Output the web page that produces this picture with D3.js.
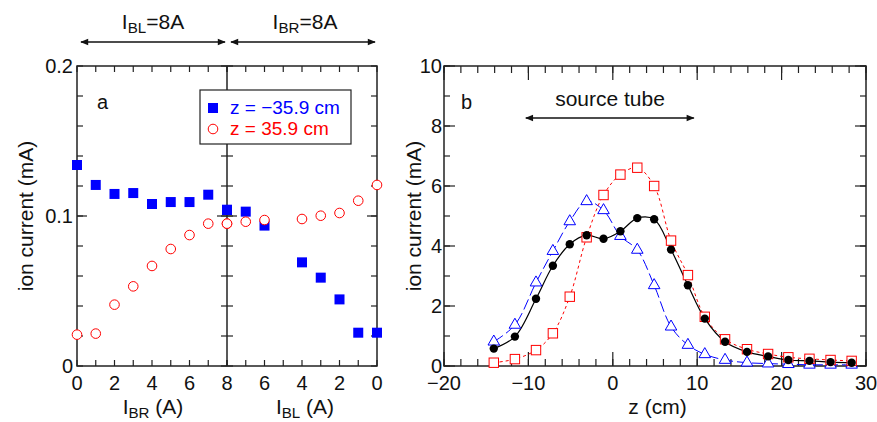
<!DOCTYPE html>
<html>
<head>
<meta charset="utf-8">
<script src="https://cdnjs.cloudflare.com/ajax/libs/d3/7.8.5/d3.min.js"></script>
<style>
  body { margin: 0; background: #fff; }
  text { font-family: "Liberation Sans", Arial, sans-serif; fill: #111; }
</style>
</head>
<body>
<script>
// panel a: left half x = I_BR (A), right half x = I_BL (A)
const ibrLeft = [0, 1, 2, 3, 4, 5, 6, 7, 8];
const blueLeft = [0.134, 0.1207, 0.1147, 0.1153, 0.108, 0.1093, 0.1093, 0.1142, 0.1042];
const redLeft = [0.0209, 0.0216, 0.0409, 0.0531, 0.0667, 0.078, 0.0873, 0.0949, 0.0949];
const iblRight = [8, 7, 6, 4, 3, 2, 1, 0];
const blueRight = [0.104, 0.1029, 0.0936, 0.0691, 0.0589, 0.0444, 0.0222, 0.0222];
const redRight = [0.0949, 0.0962, 0.0973, 0.098, 0.1002, 0.102, 0.1102, 0.1207];
const legendLabels = ["z = \u221235.9 cm", "z = 35.9 cm"];

// panel b: current vs z
const zPos = [-14.1, -11.6, -9.1, -7.1, -5.1, -3.1, -1.1, 0.9, 2.9, 4.9, 6.9, 8.9, 10.9, 13.3, 15.9, 18.4, 20.8, 23.3, 25.8, 28.3];
const blackCur = [0.58, 0.98, 2.24, 3.34, 4.06, 4.36, 4.24, 4.49, 4.93, 4.89, 3.88, 2.69, 1.58, 0.81, 0.47, 0.32, 0.2, 0.17, 0.13, 0.11];
const redCur = [0.11, 0.23, 0.53, 1.09, 2.31, 4.29, 5.7, 6.38, 6.61, 6.0, 4.18, 3.03, 1.64, 0.89, 0.56, 0.4, 0.29, 0.24, 0.2, 0.17];
const blueCur = [0.81, 1.37, 2.78, 3.83, 4.82, 5.49, 5.19, 4.33, 3.87, 2.69, 1.31, 0.7, 0.39, 0.2, 0.11, 0.08, 0.06, 0.04, 0.04, 0.04];

const BLUE = "#0000ff", RED = "#ff0000";
const FT = 21, FN = 20, FL = 19;   // titles, tick numbers, legend

const svg = d3.select("body").append("svg")
    .attr("width", 877).attr("height", 422);

const defs = svg.append("defs");
defs.append("marker").attr("id", "arr").attr("viewBox", "0 0 10 10")
    .attr("refX", 9).attr("refY", 5).attr("markerWidth", 12).attr("markerHeight", 8)
    .attr("markerUnits", "userSpaceOnUse").attr("orient", "auto-start-reverse")
    .append("path").attr("d", "M0,1 L10,5 L0,9 Z").attr("fill", "#111");

function arrow(g, x1, x2, y) {
    g.append("line").attr("x1", x1).attr("x2", x2).attr("y1", y).attr("y2", y)
        .attr("stroke", "#111").attr("stroke-width", 1.3)
        .attr("marker-start", "url(#arr)").attr("marker-end", "url(#arr)");
}

//ticks drawn inward on a side of a frame
function ticks(g, vals, pos, fixed, len, side) {
    vals.forEach(function(v) {
        const p = pos(v);
        let l = g.append("line").attr("stroke", "#222").attr("stroke-width", 1.2);
        if (side === "bottom") l.attr("x1", p).attr("x2", p).attr("y1", fixed).attr("y2", fixed - len);
        if (side === "top") l.attr("x1", p).attr("x2", p).attr("y1", fixed).attr("y2", fixed + len);
        if (side === "left") l.attr("y1", p).attr("y2", p).attr("x1", fixed).attr("x2", fixed + len);
        if (side === "right") l.attr("y1", p).attr("y2", p).attr("x1", fixed).attr("x2", fixed - len);
    });
}

function label(g, x, y, str, size, anchor) {
    return g.append("text").attr("x", x).attr("y", y).attr("font-size", size)
        .attr("text-anchor", anchor || "middle").text(str);
}

// ---------------- panel a ----------------
const aL = 77, aM = 227, aR = 377, aT = 66, aB = 366;
const xa1 = d3.scaleLinear().domain([0, 8]).range([aL, aM]);
const xa2 = d3.scaleLinear().domain([8, 0]).range([aM, aR]);
const ya = d3.scaleLinear().domain([0, 0.2]).range([aB, aT]);
const ga = svg.append("g");

const yMinorA = d3.range(0, 0.2001, 0.02);
const yMajorA = [0, 0.1, 0.2];
ticks(ga, yMinorA, ya, aL, 6, "left");
ticks(ga, yMinorA, ya, aR, 6, "right");
ticks(ga, yMinorA, ya, aM, 6, "right");
ticks(ga, yMinorA, ya, aM, 6, "left");
ticks(ga, [0.1], ya, aL, 10, "left");
ticks(ga, [0.1], ya, aR, 10, "right");
ticks(ga, [0.1], ya, aM, 10, "right");
ticks(ga, [0.1], ya, aM, 10, "left");
ticks(ga, d3.range(0, 9), xa1, aB, 6, "bottom");
ticks(ga, d3.range(0, 9), xa1, aT, 6, "top");
ticks(ga, d3.range(0, 9), xa2, aB, 6, "bottom");
ticks(ga, d3.range(0, 9), xa2, aT, 6, "top");

ga.append("rect").attr("x", aL).attr("y", aT).attr("width", aR - aL).attr("height", aB - aT)
    .attr("fill", "none").attr("stroke", "#222").attr("stroke-width", 1.5);
ga.append("line").attr("x1", aM).attr("x2", aM).attr("y1", aT).attr("y2", aB)
    .attr("stroke", "#222").attr("stroke-width", 1.5);

yMajorA.forEach(function(d) {
    label(ga, aL - 4, ya(d) + 7, d === 0 ? "0" : d3.format(".1f")(d), FN, "end");
});
[0, 2, 4, 6, 8].forEach(function(d) { label(ga, xa1(d), 390, d, FN); });
[6, 4, 2, 0].forEach(function(d) { label(ga, xa2(d), 390, d, FN); });

function subLabel(g, x, y, main, sub, rest, size) {
    const t = g.append("text").attr("x", x).attr("y", y).attr("text-anchor", "middle").attr("font-size", size);
    t.append("tspan").text(main);
    t.append("tspan").attr("font-size", size * 0.72).attr("dy", 4).text(sub);
    t.append("tspan").attr("dy", -4).text(rest);
}
subLabel(ga, 153, 414, "I", "BR", " (A)", FT);
subLabel(ga, 305, 414, "I", "BL", " (A)", FT);
subLabel(ga, 153, 29, "I", "BL", "=8A", FT);
subLabel(ga, 305, 29, "I", "BR", "=8A", FT);
arrow(ga, 81, 225, 42);
arrow(ga, 231, 375, 42);

ga.append("text").attr("transform", "translate(33," + ((aT + aB) / 2) + ") rotate(-90)")
    .attr("text-anchor", "middle").attr("font-size", FT).text("ion current (mA)");
label(ga, 97, 109, "a", FN, "start");

// markers
const sq = 10;
function squares(g, xs, ys, xsc, ysc) {
    g.selectAll(null).data(xs).enter().append("rect")
        .attr("x", function(d) { return xsc(d) - sq / 2; })
        .attr("y", function(d, i) { return ysc(ys[i]) - sq / 2; })
        .attr("width", sq).attr("height", sq).attr("fill", BLUE);
}
function circles(g, xs, ys, xsc, ysc) {
    g.selectAll(null).data(xs).enter().append("circle")
        .attr("cx", function(d) { return xsc(d); })
        .attr("cy", function(d, i) { return ysc(ys[i]); })
        .attr("r", 4.8).attr("fill", "#fff").attr("stroke", RED).attr("stroke-width", 1);
}
squares(ga, ibrLeft, blueLeft, xa1, ya);
squares(ga, iblRight, blueRight, xa2, ya);
circles(ga, ibrLeft, redLeft, xa1, ya);
circles(ga, iblRight, redRight, xa2, ya);

// legend
const lg = ga.append("g");
lg.append("rect").attr("x", 200).attr("y", 90).attr("width", 151).attr("height", 54)
    .attr("fill", "#fff").attr("stroke", "#222").attr("stroke-width", 1.2);
lg.append("rect").attr("x", 213 - sq / 2).attr("y", 108 - sq / 2).attr("width", sq).attr("height", sq).attr("fill", BLUE);
lg.append("circle").attr("cx", 213).attr("cy", 129).attr("r", 4.8).attr("fill", "#fff").attr("stroke", RED);
label(lg, 230, 114, legendLabels[0], FL, "start").style("fill", BLUE);
label(lg, 230, 135, legendLabels[1], FL, "start").style("fill", RED);

// ---------------- panel b ----------------
const bL = 444, bR = 866, bT = 66, bB = 366;
const xb = d3.scaleLinear().domain([-20, 30]).range([bL, bR]);
const yb = d3.scaleLinear().domain([0, 10]).range([bB, bT]);
const gb = svg.append("g");

ticks(gb, d3.range(-20, 31, 2), xb, bB, 7, "bottom");
ticks(gb, d3.range(-20, 31, 2), xb, bT, 7, "top");
ticks(gb, d3.range(-20, 31, 10), xb, bB, 14, "bottom");
ticks(gb, d3.range(-20, 31, 10), xb, bT, 14, "top");
ticks(gb, d3.range(0, 11, 1), yb, bL, 6, "left");
ticks(gb, d3.range(0, 11, 1), yb, bR, 6, "right");
ticks(gb, d3.range(0, 11, 2), yb, bL, 11, "left");
ticks(gb, d3.range(0, 11, 2), yb, bR, 11, "right");

gb.append("rect").attr("x", bL).attr("y", bT).attr("width", bR - bL).attr("height", bB - bT)
    .attr("fill", "none").attr("stroke", "#222").attr("stroke-width", 1.5);

d3.range(0, 11, 2).forEach(function(d) { label(gb, bL - 2, yb(d) + 7, d, FN, "end"); });
d3.range(-20, 31, 10).forEach(function(d) {
    label(gb, xb(d), 390, d < 0 ? "\u2212" + Math.abs(d) : d, FN);
});
label(gb, xb(5.3), 414, "z (cm)", FT);
gb.append("text").attr("transform", "translate(421," + ((bT + bB) / 2) + ") rotate(-90)")
    .attr("text-anchor", "middle").attr("font-size", FT).text("ion current (mA)");
label(gb, 461, 109, "b", FN, "start");
label(gb, 610, 106, "source tube", FT);
arrow(gb, xb(-10.3), xb(9.6), 118);

const line = function(ys) {
    return d3.line().x(function(d) { return xb(d); })
        .y(function(d, i) { return yb(ys[i]); })
        .curve(d3.curveCatmullRom)(zPos);
};
gb.append("path").attr("d", line(blueCur)).attr("fill", "none")
    .attr("stroke", BLUE).attr("stroke-width", 1).attr("stroke-dasharray", "11,4");
gb.append("path").attr("d", line(redCur)).attr("fill", "none")
    .attr("stroke", RED).attr("stroke-width", 1).attr("stroke-dasharray", "3,3");
gb.append("path").attr("d", line(blackCur)).attr("fill", "none")
    .attr("stroke", "#000").attr("stroke-width", 1.2);

const tri = d3.symbol().type(d3.symbolTriangle).size(58);
gb.selectAll(".tri").data(zPos).enter().append("path")
    .attr("d", tri)
    .attr("transform", function(d, i) { return "translate(" + xb(d) + "," + yb(blueCur[i]) + ")"; })
    .attr("fill", "#fff").attr("stroke", BLUE).attr("stroke-width", 1);
gb.selectAll(".rsq").data(zPos).enter().append("rect")
    .attr("x", function(d) { return xb(d) - 4.7; })
    .attr("y", function(d, i) { return yb(redCur[i]) - 4.7; })
    .attr("width", 9.4).attr("height", 9.4)
    .attr("fill", "#fff").attr("stroke", RED).attr("stroke-width", 1);
gb.selectAll(".bdot").data(zPos).enter().append("circle")
    .attr("cx", function(d) { return xb(d); })
    .attr("cy", function(d, i) { return yb(blackCur[i]); })
    .attr("r", 4.2).attr("fill", "#000");
</script>
</body>
</html>
